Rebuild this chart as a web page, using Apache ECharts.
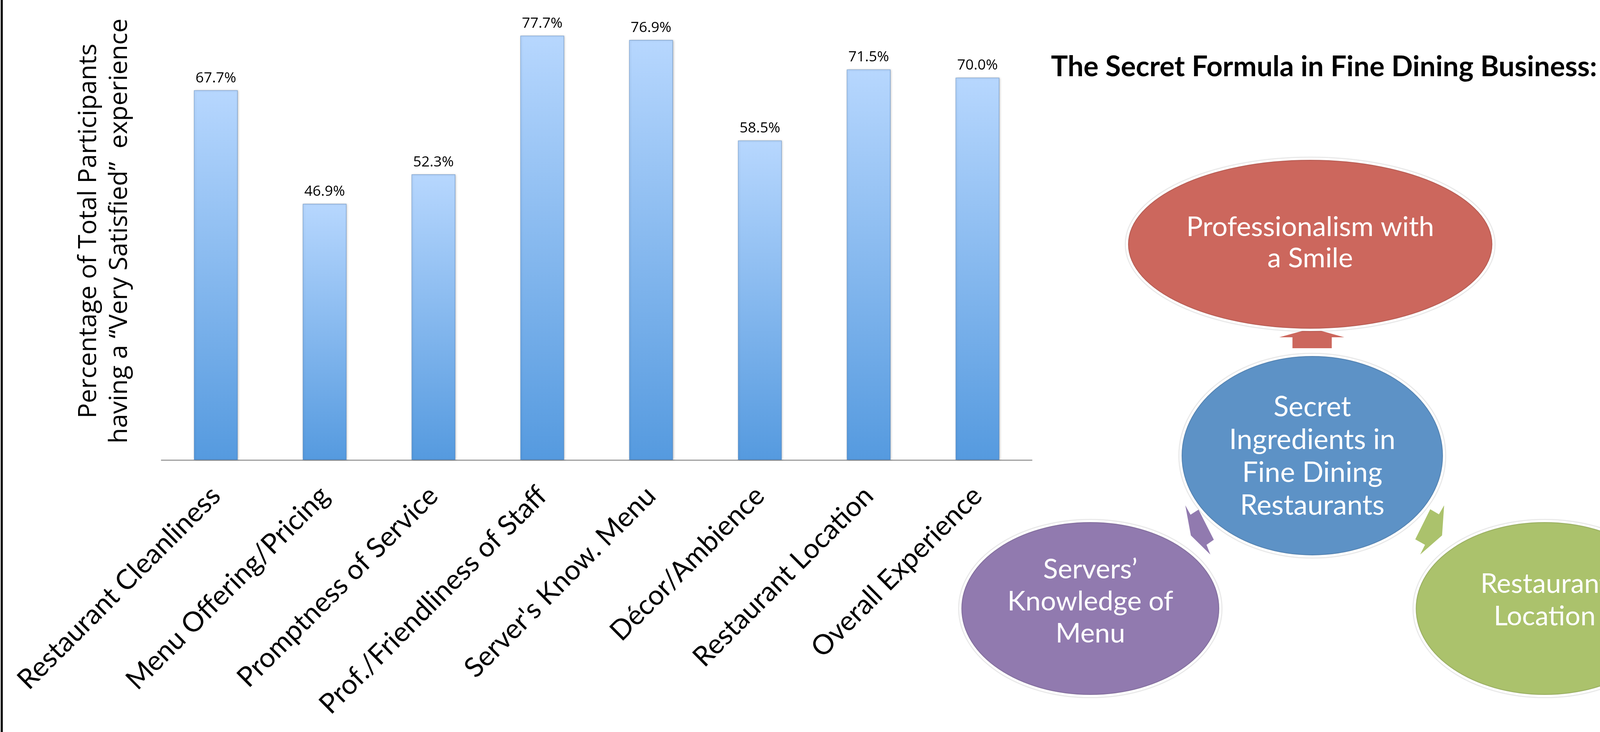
<!DOCTYPE html>
<html>
<head>
<meta charset="utf-8">
<script src="https://cdn.jsdelivr.net/npm/echarts@6/dist/echarts.min.js"></script>
<style>
html,body{margin:0;padding:0;background:#fff;overflow:hidden;}
#chart{width:100vw;height:100vh;}
</style>
</head>
<body>
<div id="chart"></div>
<script>
// ---- data ----
const categories = ['Restaurant Cleanliness', 'Menu Offering/Pricing', 'Promptness of Service',
  'Prof./Friendliness of Staff', "Server's Know. Menu", 'Décor/Ambience',
  'Restaurant Location', 'Overall Experience'];
const values = [67.7, 46.9, 52.3, 77.7, 76.9, 58.5, 71.5, 70.0];
const yTitleLines = ['Percentage of Total Participants', 'having a \u201cVery Satisfied\u201d  experience'];
const diagramTitle = 'The Secret Formula in Fine Dining Business:';
const nodeLabels = [
  ['Professionalism with', 'a Smile'],
  ['Secret', 'Ingredients in', 'Fine Dining', 'Restaurants'],
  ['Servers\u2019', 'Knowledge of', 'Menu'],
  ['Restaurant', 'Location']
];
const nodeColors = ['#CC675D', '#5D92C6', '#917AAF', '#ABC26C'];

// ---- scaling to the actual viewport (design size 4599 x 1873) ----
const W = window.innerWidth || 4599, H = window.innerHeight || 1873;
const sx = W / 4599, sy = H / 1873, sf = Math.min(sx, sy);
const X = v => v * sx, Y = v => v * sy;

// ---- text fitting helper ----
const mctx = document.createElement('canvas').getContext('2d');
function fit(text, weight, family, target) {
  mctx.font = weight + ' 100px "' + family + '"';
  const w = mctx.measureText(text).width;
  return w > 0 ? 100 * target / w : 60 * sf;
}
const LABEL_FONT = 'Lato';
const CAL_FONT = 'Open Sans';
const xLabelSize = fit(categories[0], 'normal', LABEL_FONT, X(786));
const dataLabelSize = fit('67.7%', 'normal', CAL_FONT, X(117));
const yTitleSize = fit(yTitleLines[1], 'normal', CAL_FONT, Y(1088));
const titleSize = fit(diagramTitle, 'bold', LABEL_FONT, X(1569));

// ---- diagram layout ----
const nodes = [
  {cx: 3766, cy: 625, rx: 527, ry: 219, fitLine: 0, fitW: 712, lh: 80, ty: 621},
  {cx: 3772, cy: 1166, rx: 379, ry: 258, fitLine: 1, fitW: 478, lh: 84, ty: 1168},
  {cx: 3134, cy: 1557, rx: 374, ry: 224, fitLine: 1, fitW: 477, lh: 82, ty: 1540},
  {cx: 4440, cy: 1557, rx: 374, ry: 224, fitLine: 1, fitW: 293, lh: 83, ty: 1536}
];
const arrows = [
  [[3771,840],[3864,863],[3828,863],[3828,891],[3715,891],[3715,863],[3677,863]],
  [[3423,1370],[3407,1293],[3422,1317],[3445,1304],[3489,1381],[3468,1394],[3479,1419]],
  [[4145,1370],[4151,1293],[4136,1316],[4111,1303],[4068,1380],[4096,1394],[4082,1419]]
];

const graphics = [];
graphics.push({type: 'rect', shape: {x: X(2), y: 0, width: Math.max(2, X(6)), height: H}, style: {fill: '#000'}, z: 10});
graphics.push({
  type: 'text', x: X(300), y: Y(591), rotation: Math.PI / 2,
  style: {text: yTitleLines.join('\n'), font: 'normal ' + yTitleSize.toFixed(1) + 'px "' + CAL_FONT + '"',
    fill: '#000', align: 'center', verticalAlign: 'middle', lineHeight: X(88)}
});
graphics.push({
  type: 'text', x: X(3021), y: Y(172),
  style: {text: diagramTitle, font: 'bold ' + titleSize.toFixed(1) + 'px "' + LABEL_FONT + '"',
    fill: '#000', align: 'left', verticalAlign: 'middle'}
});
arrows.forEach((pts, i) => {
  graphics.push({type: 'polygon', shape: {points: pts.map(p => [X(p[0]), Y(p[1])])},
    style: {fill: nodeColors[[0, 2, 3][i]]}, z: 1});
});
nodes.forEach((n, i) => {
  graphics.push({
    type: 'ellipse', shape: {cx: X(n.cx), cy: Y(n.cy), rx: X(n.rx), ry: Y(n.ry)},
    style: {fill: nodeColors[i], stroke: '#fff', lineWidth: 7 * sf, shadowBlur: 4 * sf, shadowColor: 'rgba(0,0,0,0.35)'},
    z: 2
  });
  const fs = fit(nodeLabels[i][n.fitLine], 'normal', LABEL_FONT, X(n.fitW));
  graphics.push({
    type: 'text', x: X(n.cx), y: Y(n.ty), z: 3,
    style: {text: nodeLabels[i].join('\n'), font: 'normal ' + fs.toFixed(1) + 'px "' + LABEL_FONT + '"',
      fill: '#fff', align: 'center', verticalAlign: 'middle', lineHeight: Y(n.lh)}
  });
});

const chart = echarts.init(document.getElementById('chart'), null, {renderer: 'canvas'});
chart.setOption({
  backgroundColor: '#fff',
  animation: false,
  grid: {left: X(464), right: X(1633), top: Y(59), bottom: Y(696), containLabel: false},
  xAxis: {
    type: 'category', data: categories,
    axisLine: {lineStyle: {color: '#8d8d8d', width: 3 * sf}},
    axisTick: {show: false},
    axisLabel: {interval: 0, rotate: 45, margin: Y(80), color: '#000',
      fontFamily: LABEL_FONT, fontSize: xLabelSize}
  },
  yAxis: {type: 'value', min: 0, max: 80, show: false, splitLine: {show: false}},
  series: [{
    type: 'bar', data: values, barWidth: X(126),
    itemStyle: {
      color: new echarts.graphic.LinearGradient(0, 0, 0, 1, [
        {offset: 0, color: '#B7D7FE'}, {offset: 1, color: '#559ADF'}]),
      borderColor: 'rgba(70,120,180,0.55)', borderWidth: 1.5 * sf,
      shadowBlur: 6 * sf, shadowColor: 'rgba(0,0,0,0.25)', shadowOffsetX: 2 * sf, shadowOffsetY: 1 * sf
    },
    label: {show: true, position: 'top', distance: 14 * sf, color: '#000',
      fontFamily: CAL_FONT, fontSize: dataLabelSize,
      formatter: p => p.value.toFixed(1) + '%'}
  }],
  graphic: graphics
});
window.addEventListener('resize', () => chart.resize());
</script>
</body>
</html>
